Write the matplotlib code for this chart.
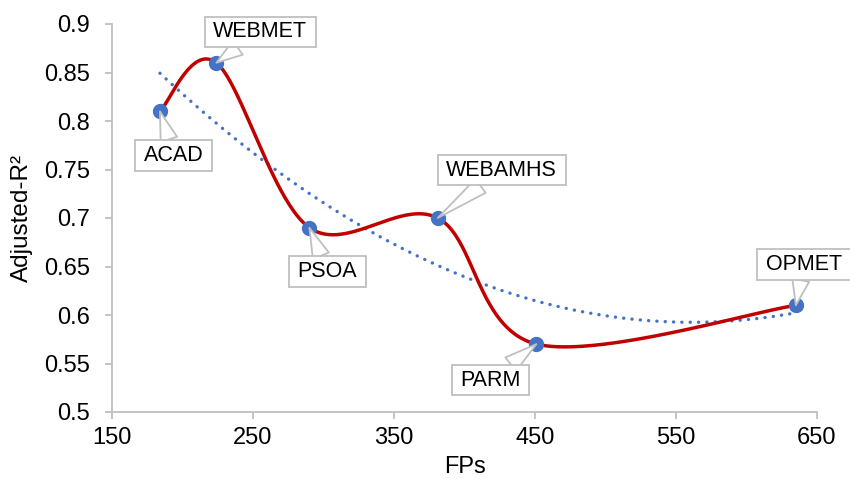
import numpy as np
import matplotlib
matplotlib.use("Agg")
import matplotlib.pyplot as plt
from matplotlib.ticker import FuncFormatter
from matplotlib.path import Path

names = ["ACAD", "WEBMET", "PSOA", "WEBAMHS", "PARM", "OPMET"]
fps = [184, 224, 290, 381, 451, 635]
adj_r2 = [0.81, 0.86, 0.69, 0.70, 0.57, 0.61]
x_ticks = [150, 250, 350, 450, 550, 650]
y_ticks = [0.5, 0.55, 0.6, 0.65, 0.7, 0.75, 0.8, 0.85, 0.9]

plt.rcParams['font.family'] = ['Liberation Sans', 'DejaVu Sans']
FS_TICK = 17
FS_LAB = 15.5
GRAY = '#BFBFBF'
BLUE = '#4472C4'
RED = '#C00000'

fig = plt.figure(figsize=(8.5, 4.79), dpi=100)
ax = fig.add_axes([112/850, 1-412/479, 705/850, 388/479])

x = np.array(fps, float)
y = np.array(adj_r2, float)

# Excel-style smoothed line (cubic Bezier with Catmull-Rom control points)
P = np.column_stack([x, y])
n = len(P)
t = np.linspace(0, 1, 80)
pts = []
for i in range(n - 1):
    p0 = P[i - 1] if i > 0 else P[i]
    p1 = P[i]
    p2 = P[i + 1]
    p3 = P[i + 2] if i + 2 < n else P[i + 1]
    c1 = p1 + (p2 - p0) / 6
    c2 = p2 - (p3 - p1) / 6
    seg = (((1-t)**3)[:, None]*p1 + (3*(1-t)**2*t)[:, None]*c1
           + (3*(1-t)*t**2)[:, None]*c2 + (t**3)[:, None]*p2)
    pts.append(seg)
pts = np.vstack(pts)
ax.plot(pts[:, 0], pts[:, 1], color=RED, lw=2.5, solid_capstyle='round', zorder=3)

# polynomial (order 2) trendline
coef = np.polyfit(x, y, 2)
xt = np.linspace(x.min(), x.max(), 300)
ax.plot(xt, np.polyval(coef, xt), color=BLUE, lw=2.4, linestyle=(0, (0.05, 2.45)),
        dash_capstyle='round', zorder=2)

ax.plot(x, y, 'o', color=BLUE, ms=10, zorder=4)


def callout_box(x0, y0, width, height, mutation_size):
    px = 0.4 * mutation_size
    py = 0.22 * mutation_size
    xa, ya = x0 - px, y0 - py
    xb, yb = x0 + width + px, y0 + height + py
    return Path([(xa, ya), (xb, ya), (xb, yb), (xa, yb), (xa, ya)],
                [Path.MOVETO, Path.LINETO, Path.LINETO, Path.LINETO, Path.CLOSEPOLY])


offsets = {"ACAD": (14, -44), "WEBMET": (44, 31), "PSOA": (18, -44),
           "WEBAMHS": (64, 48), "PARM": (-46, -36), "OPMET": (8, 41)}
for nm, xv, yv in zip(names, x, y):
    ax.annotate(nm, (xv, yv), xytext=offsets[nm], textcoords='offset pixels',
                ha='center', va='center', fontsize=FS_LAB, zorder=5,
                annotation_clip=False,
                bbox=dict(boxstyle=callout_box, fc='white', ec=GRAY, lw=1.3),
                arrowprops=dict(arrowstyle='wedge,tail_width=0.8,shrink_factor=0.5',
                                fc='white', ec=GRAY, lw=1.3, shrinkA=0, shrinkB=0))

ax.set_xlim(150, 650)
ax.set_ylim(0.5, 0.9)
ax.set_xticks(x_ticks)
ax.set_yticks(y_ticks)
ax.yaxis.set_major_formatter(FuncFormatter(lambda v, p: '%g' % v))
for s in ['top', 'right']:
    ax.spines[s].set_visible(False)
for s in ['left', 'bottom']:
    ax.spines[s].set_color(GRAY)
    ax.spines[s].set_linewidth(1.3)
ax.tick_params(colors=GRAY, labelcolor='black', labelsize=FS_TICK, length=5, width=1.3)
ax.tick_params(axis='x', pad=6)
ax.tick_params(axis='y', pad=11)
ax.set_xlabel('FPs', fontsize=FS_TICK, labelpad=4.5)
ax.set_ylabel('Adjusted-R²', fontsize=17.5)
ax.yaxis.set_label_coords(-(112-33)/705, 0.5)

fig.savefig('out.png', dpi=100)
